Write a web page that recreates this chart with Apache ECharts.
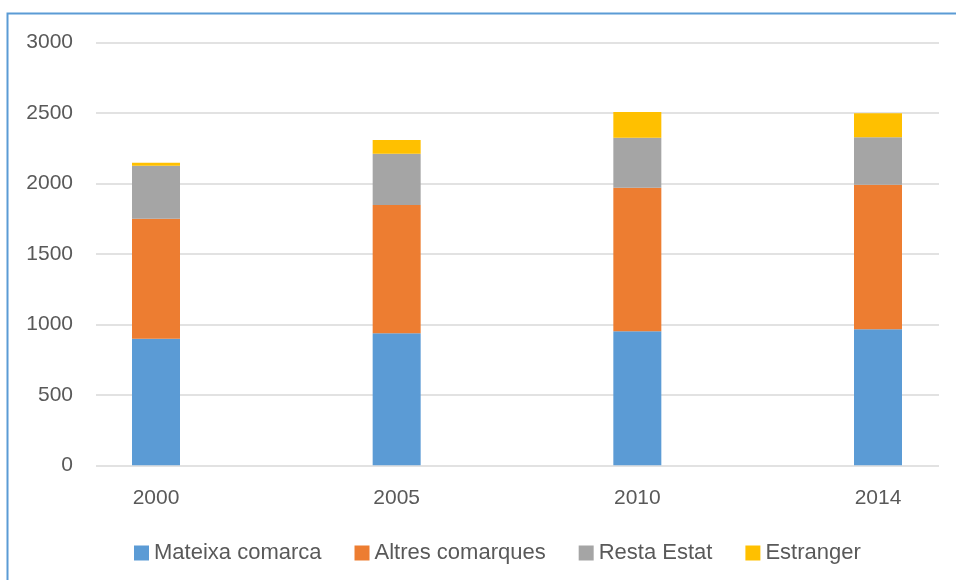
<!DOCTYPE html>
<html>
<head>
<meta charset="utf-8">
<script src="https://cdn.jsdelivr.net/npm/echarts@6/dist/echarts.min.js"></script>
<style>html,body{margin:0;padding:0;background:#fff}#c{width:956px;height:580px}</style>
</head>
<body>
<div id="c"></div>
<script>
const categories = ['2000', '2005', '2010', '2014'];
const seriesNames = ['Mateixa comarca', 'Altres comarques', 'Resta Estat', 'Estranger'];
const mateixaComarca = [898, 936, 950, 965];
const altresComarques = [851, 910, 1019, 1025];
const restaEstat = [376, 364, 354, 336];
const estranger = [21, 97, 183, 170];
const yTicks = { min: 0, max: 3000, interval: 500 };

const colors = ['#5B9BD5', '#ED7D31', '#A5A5A5', '#FFC000'];
const values = [mateixaComarca, altresComarques, restaEstat, estranger];
const font = 'Liberation Sans';
const textColor = '#595959';

const chart = echarts.init(document.getElementById('c'));
chart.setOption({
  animation: false,
  color: colors,
  graphic: [{
    type: 'rect', silent: true, z: -1,
    shape: { x: 7.5, y: 13.5, width: 1200, height: 1000 },
    style: { fill: 'none', stroke: '#5B9BD5', lineWidth: 2 }
  }],
  grid: [
    { left: 96, right: 17, top: 42.3, bottom: 114.7 },
    { left: 156, right: 78, top: 42.3, bottom: 114.7 }
  ],
  legend: {
    left: 134, top: 542, padding: 0,
    itemWidth: 15, itemHeight: 15, itemGap: 33,
    icon: 'rect',
    textStyle: { fontFamily: font, fontSize: 22, color: textColor },
    data: seriesNames
  },
  xAxis: [
    { gridIndex: 0, type: 'value', show: false, min: 0, max: 1 },
    {
      gridIndex: 1, type: 'category', data: categories, boundaryGap: false,
      axisLine: { show: false }, axisTick: { show: false },
      axisLabel: { margin: 22, fontFamily: font, fontSize: 21, color: textColor }
    }
  ],
  yAxis: [
    {
      gridIndex: 0, type: 'value', min: yTicks.min, max: yTicks.max, interval: yTicks.interval,
      axisLine: { show: false }, axisTick: { show: false },
      axisLabel: { margin: 23, fontFamily: font, fontSize: 21, color: textColor, formatter: v => String(v) },
      splitLine: { lineStyle: { color: '#D9D9D9', width: 1.5 } }
    },
    {
      gridIndex: 1, type: 'value', min: yTicks.min, max: yTicks.max, interval: yTicks.interval,
      show: false
    }
  ],
  series: seriesNames.map((name, i) => ({
    name, type: 'bar', stack: 'total', xAxisIndex: 1, yAxisIndex: 1,
    barWidth: 48, data: values[i],
    itemStyle: { color: colors[i] }
  }))
});
</script>
</body>
</html>
